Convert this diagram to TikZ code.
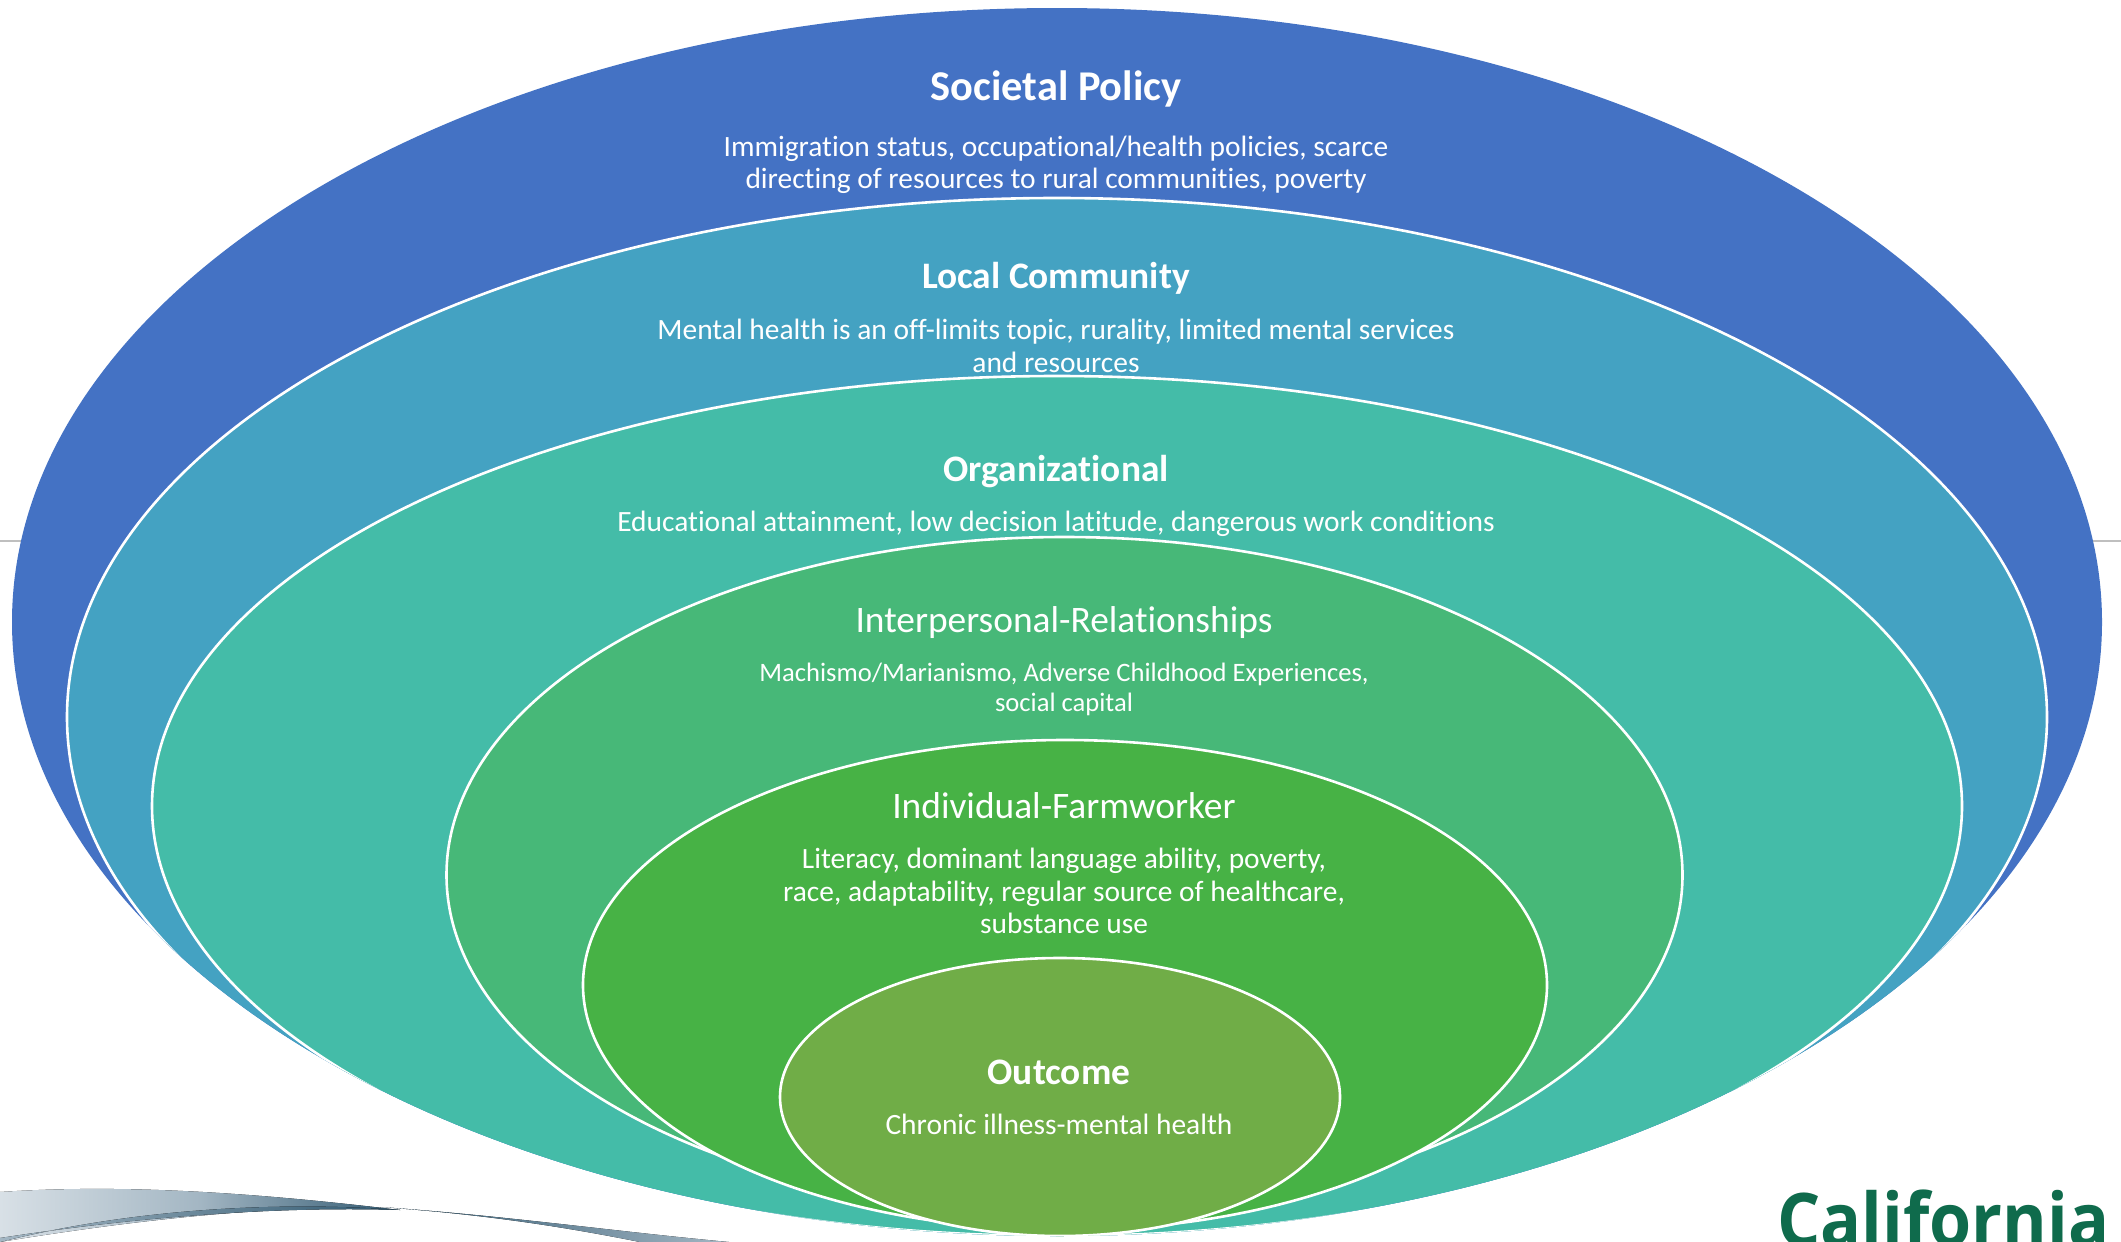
\documentclass[tikz,border=0pt]{standalone}
\usepackage{fontspec}
\setmainfont{Carlito}[Ligatures=NoCommon]
\newfontfamily\logofont{Open Sans}
\definecolor{cA}{HTML}{4472C4}
\definecolor{cB}{HTML}{44A2C2}
\definecolor{cC}{HTML}{44BCA8}
\definecolor{cD}{HTML}{47B878}
\definecolor{cE}{HTML}{47B245}
\definecolor{cF}{HTML}{70AD47}
\definecolor{logo}{HTML}{0F6B4C}
\definecolor{swL}{HTML}{D8E0E6}
\definecolor{swM}{HTML}{A3B6C3}
\definecolor{swD}{HTML}{2F5870}
\definecolor{rulec}{HTML}{BFBFBF}
\tikzset{
  ring/.style={draw=white,line width=1.3pt},
  ttl/.style={text=white,font=\fontsize{18.7}{22}\selectfont\bfseries,inner sep=0pt},
  ttlb/.style={text=white,font=\fontsize{21.2}{25}\selectfont\bfseries,inner sep=0pt},
  ttlr/.style={text=white,font=\fontsize{18.7}{22}\selectfont,inner sep=0pt},
  big/.style={text=white,align=center,font=\fontsize{14.72}{16.25}\selectfont,inner sep=0pt},
  small/.style={text=white,align=center,font=\fontsize{13.3}{15}\selectfont,inner sep=0pt},
}
\begin{document}
\begin{tikzpicture}[x=0.5pt,y=-0.5pt]
\useasboundingbox (0,0) rectangle (2121,1242);
\clip (0,0) rectangle (2121,1242);
\fill[white] (0,0) rectangle (2121,1242);
% stray slide rule
\draw[rulec,line width=0.6pt] (0,541) -- (30,541);
\draw[rulec,line width=0.6pt] (2090,541) -- (2121,541);
% swoosh
\fill[left color=swL,right color=swD,middle color=swM]
  (0,1192) .. controls (120,1184) and (250,1192) .. (400,1210)
  .. controls (340,1206) and (220,1206) .. (0,1242) -- cycle;
\fill[left color=swM,right color=swD] (0,1242) .. controls (120,1212) and (260,1200) .. (400,1210)
  .. controls (270,1206) and (130,1218) .. (0,1238) -- cycle;
\fill[left color=swD,right color=swM] (380,1207) .. controls (500,1215) and (620,1232) .. (729,1242)
  -- (640,1242) .. controls (560,1226) and (480,1214) .. (380,1207) -- cycle;
% logo
\node[text=logo,font=\logofont\fontsize{37}{38}\selectfont\bfseries,anchor=base west,inner sep=0pt,xscale=0.92] (logotext) at (1777,1246) {California};
% ellipses
\fill[cA] (1057,622) ellipse [x radius=1045,y radius=614];
\begin{scope}
\clip (1057,622) ellipse [x radius=1045,y radius=614];
\path[fill=cB,ring] (1057,717) ellipse [x radius=990,y radius=519];
\path[fill=cC,ring] (1057,806) ellipse [x radius=905,y radius=430];
\path[fill=cD,ring] (1064.5,875) ellipse [x radius=618,y radius=338];
\path[fill=cE,ring] (1065,985) ellipse [x radius=482,y radius=245];
\path[fill=cF,ring] (1060,1097) ellipse [x radius=280,y radius=139];
\end{scope}
% texts
\node[ttlb] (t1) at (1056,89) {Societal Policy};
\node[big] (b1) at (1056,165) {Immigration status, occupational/health policies, scarce\\directing of resources to rural communities, poverty};
\node[ttl] (t2) at (1056,278) {Local Community};
\node[big] (b2) at (1056,346) {Mental health is an off-limits topic, rurality, limited mental services\\and resources};
\node[ttl] (t3) at (1056,472) {Organizational};
\node[big] (b3) at (1056,524) {Educational attainment, low decision latitude, dangerous work conditions};
\node[ttlr] (t4) at (1064,623) {Interpersonal-Relationships};
\node[small] (b4) at (1064,689) {Machismo/Marianismo, Adverse Childhood Experiences,\\social capital};
\node[ttlr] (t5) at (1064,806) {Individual-Farmworker};
\node[big] (b5) at (1064,891) {Literacy, dominant language ability, poverty,\\race, adaptability, regular source of healthcare,\\substance use};
\node[ttl] (t6) at (1059,1072) {Outcome};
\node[big] (b6) at (1059,1124) {Chronic illness-mental health};
\end{tikzpicture}
\end{document}
